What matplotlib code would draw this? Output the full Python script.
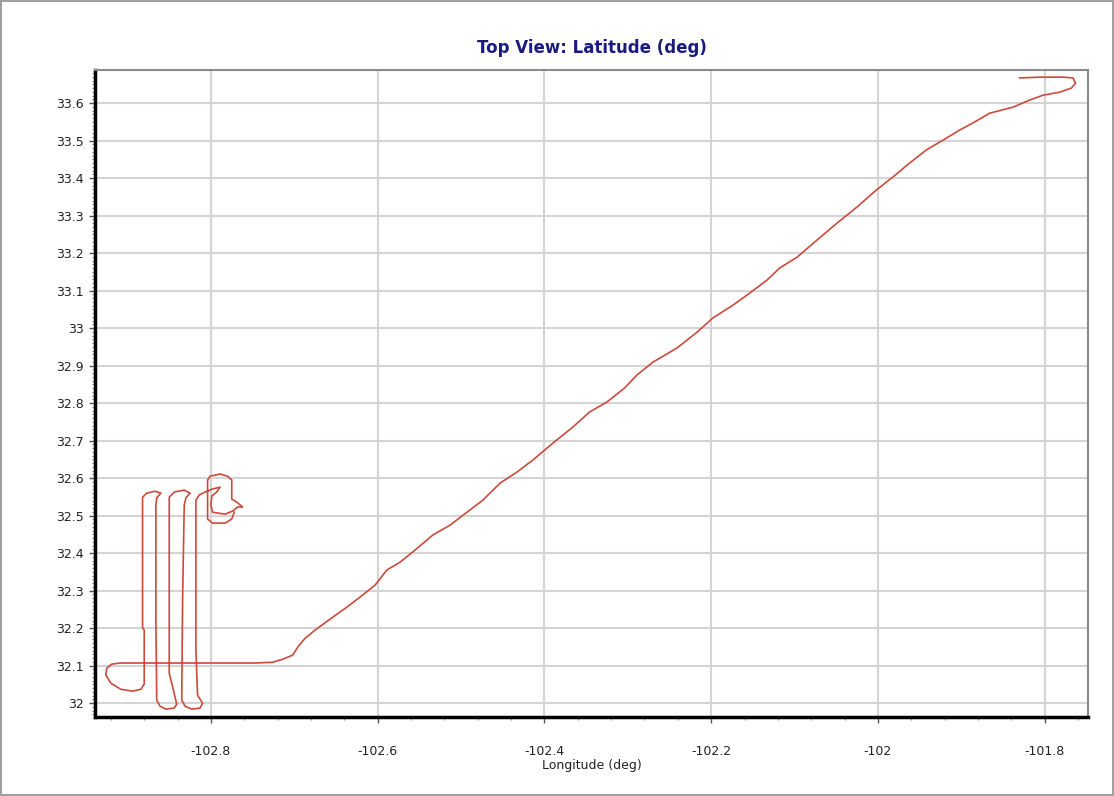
import matplotlib
matplotlib.use("Agg")
import matplotlib.pyplot as plt
from matplotlib.ticker import MultipleLocator, FormatStrFormatter

plt.rcParams['axes.unicode_minus'] = False
plt.rcParams['font.family'] = ['DejaVu Sans']

# Trayectoria (longitud, latitud), desde la esquina superior derecha
lon = [-101.830, -101.806, -101.778, -101.766, -101.763, -101.768, -101.782, -101.802,
       -101.818, -101.838, -101.866, -101.886, -101.902, -101.922, -101.942, -101.962,
       -101.982, -102.002, -102.025, -102.049, -102.073, -102.097, -102.118, -102.133,
       -102.154, -102.174, -102.198, -102.217, -102.241, -102.270, -102.289, -102.304,
       -102.325, -102.346, -102.366, -102.390, -102.414, -102.433, -102.453, -102.474,
       -102.493, -102.513, -102.534, -102.558, -102.573, -102.589, -102.603, -102.621,
       -102.637, -102.654, -102.675, -102.687, -102.696, -102.702, -102.714, -102.726,
       -102.747, -102.909, -102.919,
       # lazo izquierdo
       -102.925, -102.926, -102.920, -102.908, -102.894, -102.884, -102.880,
       # pasada A (subida)
       -102.880, -102.882, -102.882,
       -102.877, -102.867, -102.860, -102.865,
       # pasada B (bajada)
       -102.866, -102.866, -102.865,
       -102.861, -102.854, -102.844, -102.841,
       # pasada C (subida)
       -102.845, -102.850, -102.850, -102.850,
       -102.844, -102.832, -102.825, -102.830,
       # pasada D (bajada)
       -102.832, -102.834, -102.835,
       -102.831, -102.823, -102.813, -102.810,
       # pasada E (subida)
       -102.816, -102.818, -102.818,
       -102.814, -102.807, -102.798, -102.789, -102.793, -102.799,
       # lazos finales
       -102.800, -102.798, -102.783, -102.774, -102.768, -102.762, -102.769, -102.775,
       -102.775, -102.780, -102.789, -102.801, -102.804, -102.804, -102.804, -102.798,
       -102.783, -102.775, -102.772]

lat = [33.667, 33.669, 33.669, 33.667, 33.653, 33.640, 33.629, 33.621,
       33.608, 33.589, 33.573, 33.547, 33.528, 33.501, 33.475, 33.440,
       33.403, 33.368, 33.323, 33.280, 33.235, 33.189, 33.160, 33.128,
       33.093, 33.061, 33.027, 32.989, 32.947, 32.909, 32.875, 32.840,
       32.803, 32.776, 32.736, 32.693, 32.648, 32.616, 32.587, 32.541,
       32.509, 32.475, 32.448, 32.403, 32.376, 32.355, 32.315, 32.283,
       32.256, 32.229, 32.195, 32.173, 32.149, 32.128, 32.117, 32.109,
       32.107, 32.107, 32.104,
       32.093, 32.075, 32.053, 32.037, 32.032, 32.037, 32.051,
       32.195, 32.200, 32.549,
       32.560, 32.565, 32.560, 32.547,
       32.528, 32.221, 32.008,
       31.992, 31.984, 31.987, 31.997,
       32.035, 32.080, 32.381, 32.549,
       32.563, 32.568, 32.560, 32.547,
       32.528, 32.275, 32.008,
       31.992, 31.984, 31.987, 32.000,
       32.021, 32.141, 32.541,
       32.555, 32.563, 32.571, 32.576, 32.563, 32.552,
       32.528, 32.509, 32.504, 32.512, 32.523, 32.523, 32.536, 32.544,
       32.595, 32.605, 32.611, 32.605, 32.595, 32.541, 32.491, 32.480,
       32.480, 32.491, 32.509]

fig = plt.figure(figsize=(11.14, 7.96), dpi=100)
fig.patch.set_edgecolor('#a0a0a0')
fig.patch.set_linewidth(1.5)
ax = fig.add_axes([0.0853, 0.0992, 0.8914, 0.8128])

ax.plot(lon, lat, color='#cc4a3c', linewidth=1.2)

ax.set_xlim(-102.939, -101.748)
ax.set_ylim(31.963, 33.688)
ax.xaxis.set_major_locator(MultipleLocator(0.2))
ax.xaxis.set_minor_locator(MultipleLocator(0.04))
ax.yaxis.set_major_locator(MultipleLocator(0.1))
ax.yaxis.set_minor_locator(MultipleLocator(0.01))
ax.xaxis.set_major_formatter(FormatStrFormatter('%g'))
ax.yaxis.set_major_formatter(FormatStrFormatter('%g'))

ax.grid(True, which='major', color='#d4d4d4', linewidth=1.5)
ax.set_axisbelow(True)

for lado in ['top', 'right']:
    ax.spines[lado].set_color('#8a8a8a')
    ax.spines[lado].set_linewidth(1.5)
for lado in ['left', 'bottom']:
    ax.spines[lado].set_color('black')
    ax.spines[lado].set_linewidth(2.5)

ax.tick_params(axis='both', which='major', length=4, width=1, color='#555555',
               labelsize=9, labelcolor='#222222')
ax.tick_params(axis='both', which='minor', length=2, width=0.8, color='#888888')
ax.tick_params(axis='x', which='major', pad=16)
ax.tick_params(axis='y', which='major', pad=4)

ax.set_title('Top View: Latitude (deg)', color='#1a1a80', fontsize=12,
             fontweight='bold', pad=12)
ax.set_xlabel('Longitude (deg)', fontsize=9, color='#222222', labelpad=1)

plt.savefig('out.png', dpi=100)
